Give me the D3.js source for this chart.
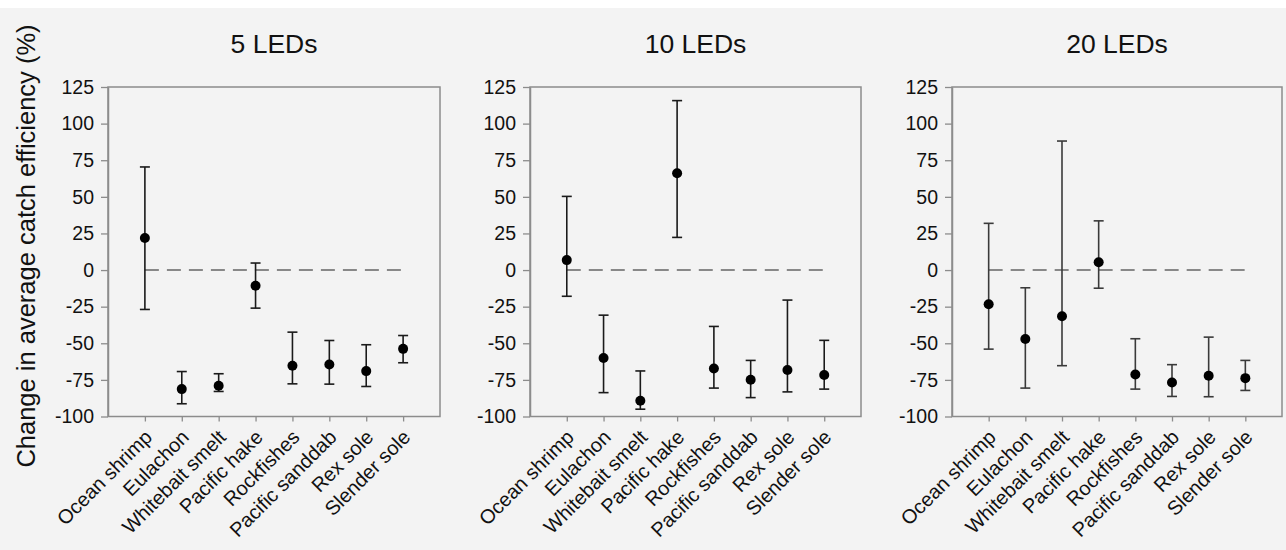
<!DOCTYPE html>
<html lang="en">
<head>
    <meta charset="UTF-8" />
    <title>Change in average catch efficiency</title>
    <script src="https://d3js.org/d3.v7.min.js"></script>
    <style>
        body {
            margin: 0;
            background: #fff;
            font-family: "Liberation Sans", Arial, sans-serif;
        }
        svg {
            display: block;
        }
    </style>
</head>
<body>
    <svg id="chart" width="1286" height="550"></svg>

    <script>
        const species = ["Ocean shrimp", "Eulachon", "Whitebait smelt", "Pacific hake",
                         "Rockfishes", "Pacific sanddab", "Rex sole", "Slender sole"];
        const panelTitles = ["5 LEDs", "10 LEDs", "20 LEDs"];
        const yTicks = [125, 100, 75, 50, 25, 0, -25, -50, -75, -100];

        // mean, upper and lower bound per species, one array per panel
        const mean5  = [21.9, -81.3, -79.0, -10.7, -65.4, -64.5, -69.0, -53.8];
        const upper5 = [70.4, -69.3, -70.8,   4.8, -42.4, -48.1, -51.0, -44.7];
        const lower5 = [-26.9, -91.3, -82.9, -26.0, -77.7, -77.9, -79.5, -63.3];

        const mean10  = [6.8, -60.0, -89.2,  66.1, -67.2, -74.9, -68.2, -71.7];
        const upper10 = [50.3, -30.8, -68.9, 115.7, -38.5, -61.7, -20.5, -48.0];
        const lower10 = [-17.9, -83.7, -95.0, 22.3, -80.6, -87.1, -83.2, -81.3];

        const mean20  = [-23.4, -47.1, -31.5,  5.3, -71.3, -76.8, -72.2, -73.8];
        const upper20 = [31.9, -12.1,  88.1, 33.6, -46.9, -64.6, -45.8, -61.7];
        const lower20 = [-54.0, -80.6, -65.3, -12.4, -81.3, -86.3, -86.5, -82.2];

        const panels = [
            { title: panelTitles[0], mean: mean5,  upper: upper5,  lower: lower5,  x0: 108, x1: 440, bar: "#1a1a1a" },
            { title: panelTitles[1], mean: mean10, upper: upper10, lower: lower10, x0: 530, x1: 861, bar: "#1a1a1a" },
            { title: panelTitles[2], mean: mean20, upper: upper20, lower: lower20, x0: 952, x1: 1282, bar: "#3a3a3a" }
        ];

        const svg = d3.select("#chart");
        const plotTop = 87, plotBottom = 416.5;
        const axisColor = "#8c8c8c";
        const font = "'Liberation Sans', Arial, sans-serif";

        svg.append("rect")
            .attr("x", 0).attr("y", 8)
            .attr("width", 1286).attr("height", 542)
            .attr("fill", "#f3f3f3");

        const y = d3.scaleLinear().domain([-100, 125]).range([plotBottom, plotTop]);

        panels.forEach(p => {
            const x = d3.scalePoint().domain(species).range([p.x0, p.x1]).padding(1);
            const g = svg.append("g");

            // frame
            g.append("rect")
                .attr("x", p.x0).attr("y", plotTop)
                .attr("width", p.x1 - p.x0).attr("height", plotBottom - plotTop)
                .attr("fill", "none")
                .attr("stroke", axisColor)
                .attr("stroke-width", 1.5);

            // y axis
            const yAxis = g.append("g")
                .attr("transform", `translate(${p.x0},0)`)
                .call(d3.axisLeft(y).tickValues(yTicks).tickFormat(d => String(d))
                    .tickSize(7).tickPadding(7).tickSizeOuter(0));
            yAxis.select(".domain").attr("stroke", axisColor).attr("stroke-width", 1.5);
            yAxis.selectAll(".tick line").attr("stroke", axisColor).attr("stroke-width", 1.3);
            yAxis.selectAll(".tick text")
                .attr("fill", "#111")
                .style("font-size", "19.5px")
                .style("font-family", font);

            // x axis
            const xAxis = g.append("g")
                .attr("transform", `translate(0,${plotBottom})`)
                .call(d3.axisBottom(x).tickSize(5).tickSizeOuter(0));
            xAxis.select(".domain").remove();
            xAxis.selectAll(".tick line").attr("stroke", axisColor).attr("stroke-width", 1.3);
            xAxis.selectAll(".tick text")
                .attr("fill", "#111")
                .attr("text-anchor", "end")
                .attr("transform", "translate(3,17) rotate(-45)")
                .attr("dy", "0.35em")
                .attr("y", 0)
                .style("font-size", "20px")
                .style("font-family", font);

            // zero reference line
            g.append("line")
                .attr("x1", x(species[0])).attr("x2", x(species[species.length - 1]))
                .attr("y1", y(0)).attr("y2", y(0))
                .attr("stroke", "#666")
                .attr("stroke-width", 1.4)
                .attr("stroke-dasharray", "14,8");

            const rows = species.map((s, i) => ({ s, m: p.mean[i], hi: p.upper[i], lo: p.lower[i] }));

            // error bars
            const eb = g.selectAll(".eb").data(rows).enter().append("g");
            eb.append("line")
                .attr("x1", d => x(d.s)).attr("x2", d => x(d.s))
                .attr("y1", d => y(d.hi)).attr("y2", d => y(d.lo))
                .attr("stroke", p.bar).attr("stroke-width", 1.6);
            eb.append("line")
                .attr("x1", d => x(d.s) - 5).attr("x2", d => x(d.s) + 5)
                .attr("y1", d => y(d.hi)).attr("y2", d => y(d.hi))
                .attr("stroke", p.bar).attr("stroke-width", 1.6);
            eb.append("line")
                .attr("x1", d => x(d.s) - 5).attr("x2", d => x(d.s) + 5)
                .attr("y1", d => y(d.lo)).attr("y2", d => y(d.lo))
                .attr("stroke", p.bar).attr("stroke-width", 1.6);

            g.selectAll("circle").data(rows).enter().append("circle")
                .attr("cx", d => x(d.s))
                .attr("cy", d => y(d.m))
                .attr("r", 5)
                .attr("fill", "#000");

            // panel title
            g.append("text")
                .attr("x", (p.x0 + p.x1) / 2)
                .attr("y", 53)
                .attr("text-anchor", "middle")
                .attr("fill", "#111")
                .style("font-size", "26.5px")
                .style("font-family", font)
                .text(p.title);
        });

        svg.append("text")
            .attr("transform", "translate(35,246) rotate(-90)")
            .attr("text-anchor", "middle")
            .attr("fill", "#111")
            .style("font-size", "25.5px")
            .style("font-family", font)
            .text("Change in average catch efficiency (%)");
    </script>
</body>
</html>
